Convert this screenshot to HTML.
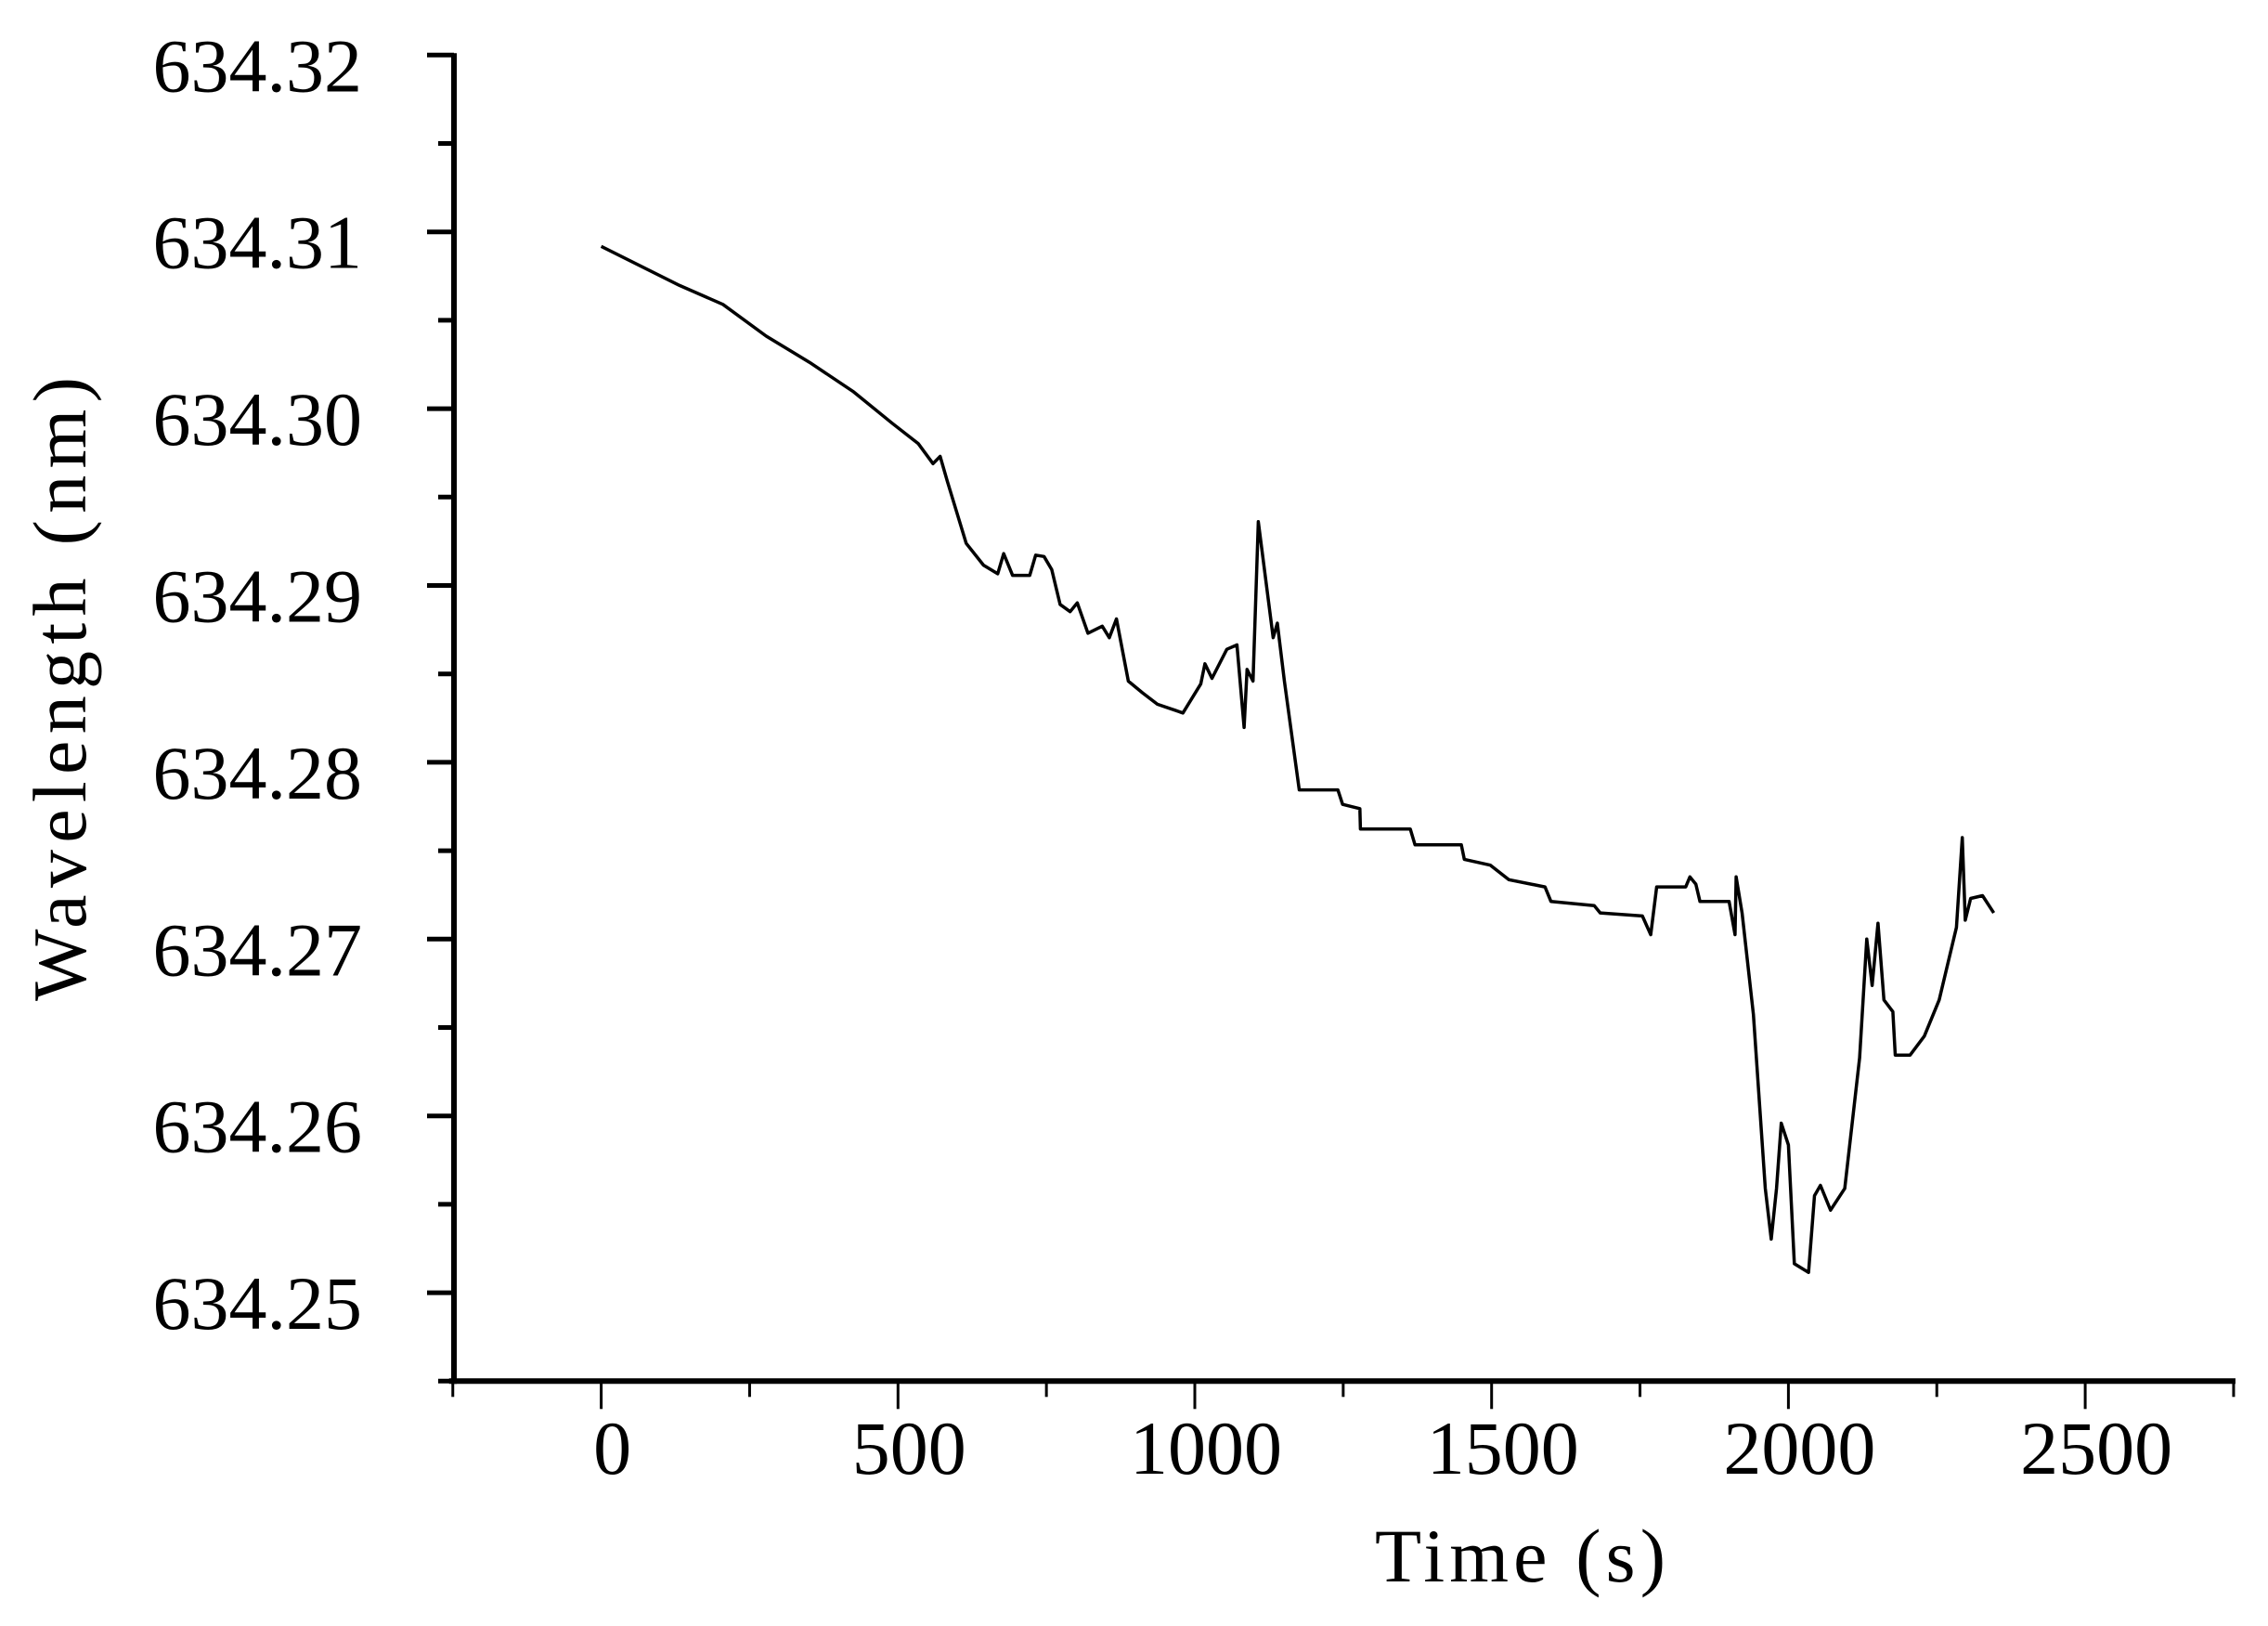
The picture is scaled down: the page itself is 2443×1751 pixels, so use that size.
<!DOCTYPE html>
<html><head><meta charset="utf-8"><style>
html,body{margin:0;padding:0;background:#fff;}
svg{display:block;font-family:"Liberation Serif",serif;}
</style></head><body>
<svg id="chart" width="2443" height="1751" viewBox="0 0 2443 1751" xmlns="http://www.w3.org/2000/svg">
<g id="axes"></g>
<path id="series" fill="none" stroke="#000" stroke-width="3.5" stroke-linejoin="round"/>
<text x="1481" y="1703" font-size="82" textLength="313">Time  (s)</text>
<text transform="translate(92,742) rotate(-90)" text-anchor="middle" font-size="82" textLength="672">Wavelength  (nm)</text>
</svg>
<script>
const times = [0,132,205,278,351,424,490,534,559,571,583,615,644,668,678,693,722,732,746,759,773,790,802,820,844,856,868,888,912,937,966,980,1010,1017,1029,1054,1071,1083,1088,1098,1107,1132,1139,1151,1176,1241,1249,1278,1279,1363,1371,1449,1454,1498,1529,1590,1600,1673,1683,1754,1768,1778,1827,1834,1844,1851,1900,1910,1912,1922,1941,1961,1971,1980,1988,2000,2010,2034,2044,2054,2071,2095,2120,2132,2141,2151,2161,2176,2180,2205,2229,2254,2283,2293,2298,2307,2327,2346];
const wavelengths = [634.30918,634.30697,634.30590,634.30410,634.30262,634.30098,634.29918,634.29803,634.29689,634.29730,634.29590,634.29238,634.29115,634.29066,634.29180,634.29057,634.29057,634.29172,634.29164,634.29090,634.28893,634.28852,634.28902,634.28730,634.28770,634.28705,634.28811,634.28459,634.28393,634.28328,634.28295,634.28279,634.28443,634.28557,634.28475,634.28639,634.28664,634.28197,634.28525,634.28459,634.29361,634.28705,634.28787,634.28459,634.27844,634.27844,634.27762,634.27738,634.27623,634.27623,634.27533,634.27533,634.27451,634.27418,634.27336,634.27295,634.27213,634.27189,634.27148,634.27131,634.27025,634.27295,634.27295,634.27352,634.27311,634.27213,634.27213,634.27025,634.27352,634.27148,634.26574,634.25590,634.25303,634.25590,634.25959,634.25836,634.25164,634.25115,634.25549,634.25607,634.25467,634.25590,634.26328,634.27000,634.26738,634.27090,634.26656,634.26590,634.26344,634.26344,634.26451,634.26656,634.27066,634.27574,634.27107,634.27230,634.27246,634.27148];
const xTicks = [0,500,1000,1500,2000,2500];
const xMinor = [-250,0,250,500,750,1000,1250,1500,1750,2000,2250,2500,2750];
const yTicks = [634.25,634.26,634.27,634.28,634.29,634.30,634.31,634.32];
const yTickLabels = ["634.25","634.26","634.27","634.28","634.29","634.30","634.31","634.32"];

const X0=647.6, XS=0.6394, Y0=59.3, YS=19040;
function xs(t){return X0+t*XS;}
function ys(v){return Y0+(634.32-v)*YS;}
const NS="http://www.w3.org/2000/svg";
const axes=document.getElementById('axes');
function mk(tag,attrs,parent){const e=document.createElementNS(NS,tag);for(const k in attrs)e.setAttribute(k,attrs[k]);(parent||axes).appendChild(e);return e;}
const xL=xs(-250), xR=xs(2750), yB=ys(634.245), yT=ys(634.32);
const ya=mk('line',{x1:489,y1:yT-2,x2:489,y2:yB+3,stroke:'#000','stroke-width':6});


const xa=mk('line',{x1:xL-4,y1:yB,x2:xR+2,y2:yB,stroke:'#000','stroke-width':6});


for(let i=0;i<=15;i++){
  const v=634.245+i*0.005, y=ys(v), major=(i%2===1);
  const t=mk('line',{x1:major?460:472,y1:y,x2:489,y2:y,stroke:'#000','stroke-width':5});
  
  
}
yTicks.forEach((v,i)=>{
  const t=mk('text',{x:390,y:ys(v)+39,'text-anchor':'end','font-size':82});
  t.textContent=yTickLabels[i];
  
  
});
xMinor.forEach(t0=>{
  const major=xTicks.indexOf(t0)>=0, x=xs(t0);
  const t=mk('line',{x1:x,y1:yB,x2:x,y2:yB+(major?30:17),stroke:'#000','stroke-width':3});
  
  
});
xTicks.forEach(t0=>{
  const t=mk('text',{x:xs(t0)+12,y:1587,'text-anchor':'middle','font-size':82});
  t.textContent=String(t0);
  
  
});
let d='';
times.forEach((t,i)=>{d+=(i?'L':'M')+xs(t).toFixed(1)+','+ys(wavelengths[i]).toFixed(1);});
document.getElementById('series').setAttribute('d',d);
</script>
</body></html>
